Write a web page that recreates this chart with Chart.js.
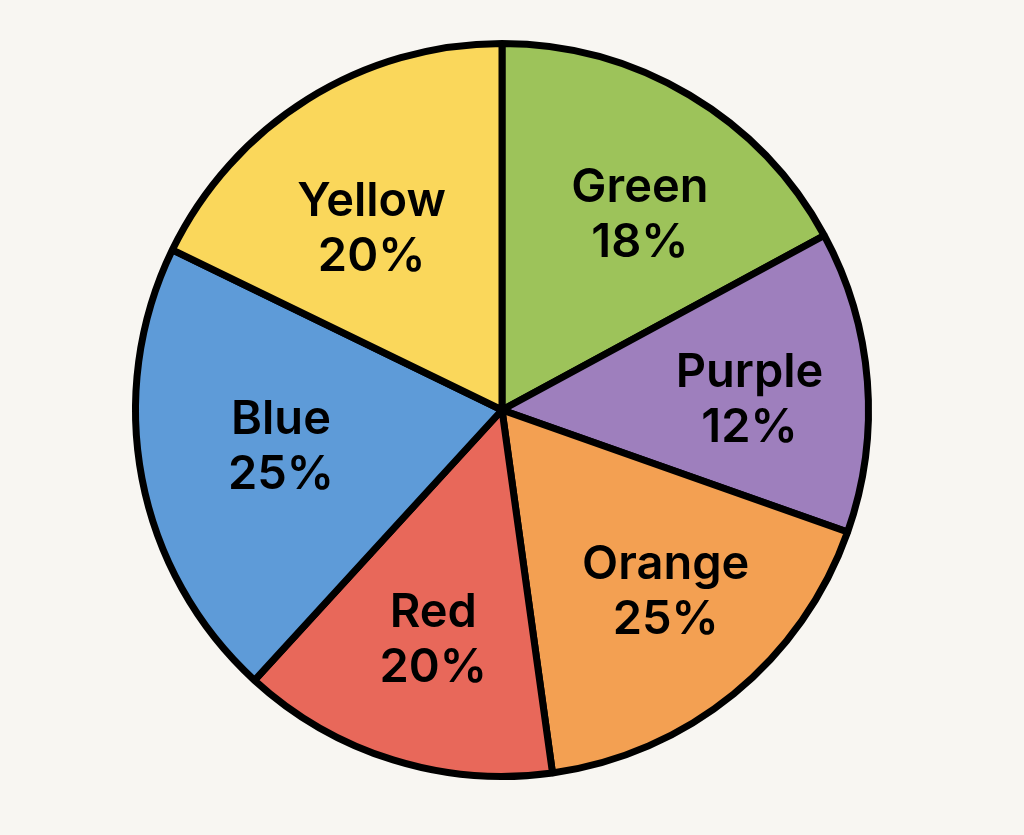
<!DOCTYPE html>
<html>
<head>
<meta charset="utf-8">
<script src="https://cdn.jsdelivr.net/npm/chart.js@4"></script>
<style>
  html, body { margin: 0; padding: 0; background: #f8f6f2; }
  #wrap { width: 1024px; height: 835px; position: relative; }
</style>
</head>
<body>
<div id="wrap"><canvas id="pieChart"></canvas></div>
<script>
// slice names, clockwise from 12 o'clock
var categories = ["Green", "Purple", "Orange", "Red", "Blue", "Yellow"];
// slice sizes as drawn (share of the circle, %)
var sliceShares = [17.1, 13.3, 17.4, 14.0, 20.4, 17.8];
// percentages printed on the slices
var labelPercents = [18, 12, 25, 20, 25, 20];
var sliceColors = ['#9dc35a', '#9e7fbd', '#f3a052', '#e8685a', '#5e9bd8', '#fad75b'];

// draws the two-line name / percent label inside each slice
var sliceLabels = {
    id: 'sliceLabels',
    afterDatasetsDraw: function (chart, args, opts) {
        var ctx = chart.ctx;
        var meta = chart.getDatasetMeta(0);
        ctx.save();
        ctx.fillStyle = '#000000';
        ctx.font = '600 47px Inter, "Liberation Sans", sans-serif';
        ctx.textAlign = 'center';
        ctx.textBaseline = 'middle';
        meta.data.forEach(function (arc, i) {
            var p = arc.getProps(['x', 'y', 'startAngle', 'endAngle', 'outerRadius'], true);
            var mid = (p.startAngle + p.endAngle) / 2;
            var r = p.outerRadius * 0.65;
            var nudge = opts.nudge[i] || [0, 0];
            var x = p.x + Math.cos(mid) * r + nudge[0];
            var y = p.y + Math.sin(mid) * r + nudge[1];
            ctx.fillText(categories[i], x, y - 27);
            ctx.fillText(labelPercents[i] + '%', x, y + 28);
        });
        ctx.restore();
    }
};

var pieChart = new Chart(document.getElementById('pieChart').getContext('2d'), {
    type: 'pie',
    data: {
        labels: categories,
        datasets: [{
            data: sliceShares,
            backgroundColor: sliceColors,
            borderColor: '#000000',
            borderWidth: 7
        }]
    },
    options: {
        responsive: true,
        maintainAspectRatio: false,
        animation: false,
        layout: {
            padding: { left: 132, top: 38, right: 152, bottom: 53 }
        },
        plugins: {
            legend: { display: false },
            tooltip: { enabled: false },
            sliceLabels: {
                nudge: [[16, 10], [10, 9], [13, -3], [2, 2], [13, -8], [-4, 21]]
            }
        }
    },
    plugins: [sliceLabels]
});
</script>
</body>
</html>
